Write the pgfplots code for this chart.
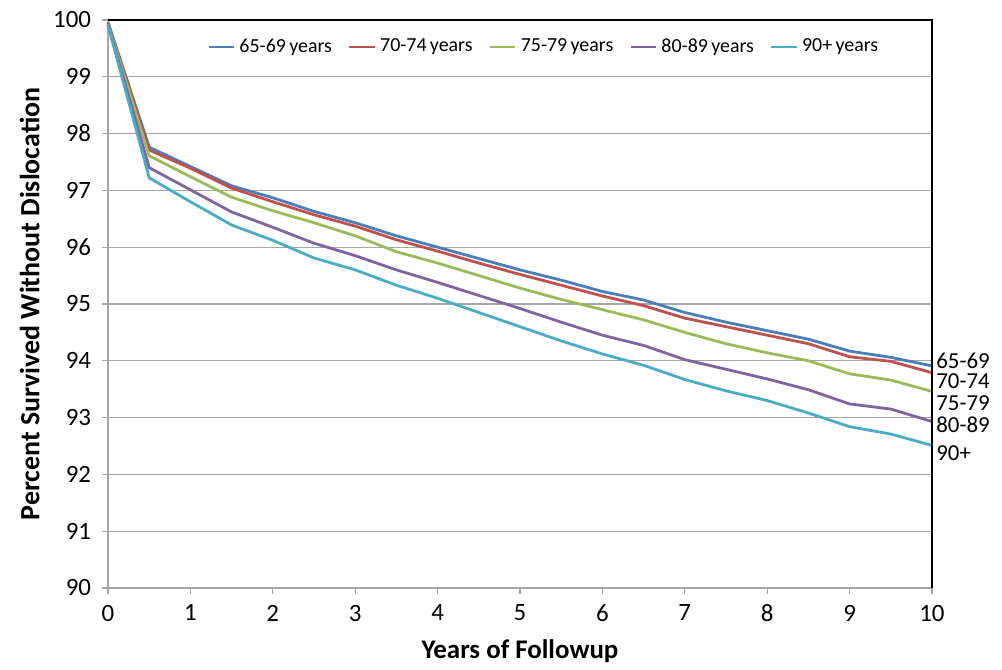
\documentclass[border=0pt]{standalone}
\usepackage{pgfplots}
\pgfplotsset{compat=1.18}
\usepackage{fontspec}
\setmainfont{Carlito}

\definecolor{c6569}{HTML}{4A7EBB}
\definecolor{c7074}{HTML}{C0504D}
\definecolor{c7579}{HTML}{9BBB59}
\definecolor{c8089}{HTML}{8064A2}
\definecolor{c90}{HTML}{4BACC6}

\begin{document}
\begin{tikzpicture}
\begin{axis}[
    scale only axis,
    width=412bp, height=284bp,
    xmin=0, xmax=10, ymin=90, ymax=100,
    xtick={0,...,10}, ytick={90,...,100},
    axis x line*=bottom, axis y line*=left,
    axis line style={gray!70, line width=0.8pt},
    tick style={gray!70, line width=0.6pt},
    tick align=outside,
    major tick length=3pt,
    ymajorgrids=true,
    grid style={gray!70, line width=0.6pt},
    tick label style={font=\fontsize{12.5}{14}\selectfont},
    yticklabel style={xshift=-2pt},
    xticklabel style={yshift=-2pt},
    /pgf/number format/assume math mode=true,
    xlabel={\textbf{Years of Followup}},
    ylabel={\textbf{Percent Survived Without Dislocation}},
    xlabel style={font=\fontsize{13.5}{15}\selectfont, yshift=-2pt},
    ylabel style={font=\fontsize{14}{16}\selectfont, yshift=0pt},
    clip=false,
    legend style={draw=none, fill=none, at={(rel axis cs:0.53,0.9525)}, anchor=center,
        font=\fontsize{10}{12}\selectfont, /tikz/every even column/.append style={column sep=6pt}},
    legend columns=5,
    legend image code/.code={\draw[#1, line width=1.4pt] (0cm,0cm) -- (0.45cm,0cm);},
    every axis plot/.append style={line width=1.4pt, mark=none},
]
\addplot[c6569] coordinates {
(0,99.96) (0.5,97.76) (1,97.42) (1.5,97.08) (2,96.87) (2.5,96.63) (3,96.43) (3.5,96.2)
(4,96.0) (4.5,95.8) (5,95.6) (5.5,95.42) (6,95.22) (6.5,95.07) (7,94.85) (7.5,94.68)
(8,94.53) (8.5,94.38) (9,94.17) (9.5,94.06) (10,93.91)};
\addplot[c7074] coordinates {
(0,99.95) (0.5,97.71) (1,97.39) (1.5,97.04) (2,96.8) (2.5,96.57) (3,96.37) (3.5,96.13)
(4,95.93) (4.5,95.72) (5,95.52) (5.5,95.33) (6,95.14) (6.5,94.97) (7,94.75) (7.5,94.6)
(8,94.45) (8.5,94.3) (9,94.07) (9.5,93.99) (10,93.79)};
\addplot[c7579] coordinates {
(0,99.93) (0.5,97.61) (1,97.24) (1.5,96.88) (2,96.64) (2.5,96.43) (3,96.2) (3.5,95.92)
(4,95.72) (4.5,95.5) (5,95.28) (5.5,95.08) (6,94.9) (6.5,94.72) (7,94.5) (7.5,94.3)
(8,94.14) (8.5,94.0) (9,93.77) (9.5,93.66) (10,93.46)};
\addplot[c8089] coordinates {
(0,99.92) (0.5,97.4) (1,97.01) (1.5,96.62) (2,96.35) (2.5,96.07) (3,95.85) (3.5,95.6)
(4,95.38) (4.5,95.15) (5,94.92) (5.5,94.68) (6,94.45) (6.5,94.27) (7,94.02) (7.5,93.85)
(8,93.68) (8.5,93.49) (9,93.24) (9.5,93.15) (10,92.93)};
\addplot[c90] coordinates {
(0,99.9) (0.5,97.22) (1,96.8) (1.5,96.39) (2,96.12) (2.5,95.81) (3,95.6) (3.5,95.33)
(4,95.1) (4.5,94.85) (5,94.6) (5.5,94.35) (6,94.12) (6.5,93.92) (7,93.67) (7.5,93.47)
(8,93.3) (8.5,93.08) (9,92.84) (9.5,92.71) (10,92.51)};
\legend{65-69\,years, 70-74\,years, 75-79\,years, 80-89\,years, 90+\,years}
\draw[black, line width=0.8pt] (rel axis cs:0,1) -- (rel axis cs:1,1) -- (rel axis cs:1,0);
\begin{scope}[every node/.style={anchor=west, inner sep=0pt, xshift=2pt, font=\fontsize{11.5}{13}\selectfont}]
\node at (axis cs:10,94.0) {65-69};
\node at (axis cs:10,93.64) {70-74};
\node at (axis cs:10,93.26) {75-79};
\node at (axis cs:10,92.88) {80-89};
\node at (axis cs:10,92.38) {90+};
\end{scope}
\path (rel axis cs:-0.1311,-0.1373) rectangle (rel axis cs:1.085,1.0352);
\end{axis}
\end{tikzpicture}
\end{document}
